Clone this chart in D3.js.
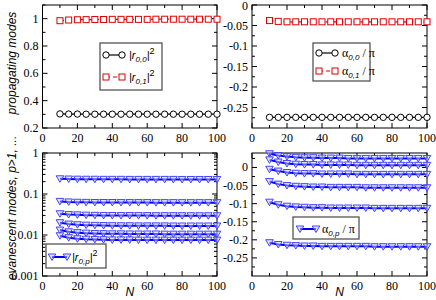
<!DOCTYPE html>
<html><head><meta charset="utf-8">
<script src="https://cdn.jsdelivr.net/npm/d3@7/dist/d3.min.js"></script>
<style>body{margin:0;background:#fff}svg{display:block}</style>
</head><body>
<svg id="c" width="436" height="300"></svg>
<script>
const N = [10,15,20,25,30,35,40,45,50,55,60,65,70,75,80,85,90,95,100];
// top-left: |r_{0,0}|^2 and |r_{0,1}|^2
const r00 = [0.303,0.302,0.302,0.301,0.301,0.301,0.301,0.301,0.301,0.301,0.301,0.301,0.301,0.301,0.301,0.301,0.301,0.301,0.301];
const r01 = [0.985,0.990,0.992,0.993,0.994,0.994,0.995,0.995,0.995,0.995,0.995,0.996,0.996,0.996,0.996,0.996,0.996,0.996,0.996];
// top-right: alpha/pi
const a00 = [-0.274,-0.274,-0.274,-0.274,-0.274,-0.274,-0.274,-0.274,-0.274,-0.274,-0.274,-0.274,-0.274,-0.274,-0.274,-0.274,-0.274,-0.274,-0.274];
const a01 = [-0.038,-0.040,-0.041,-0.041,-0.041,-0.041,-0.041,-0.041,-0.041,-0.041,-0.041,-0.041,-0.041,-0.041,-0.041,-0.041,-0.041,-0.041,-0.041];
// bottom-left: evanescent |r_{0,p}|^2
const rp1 = [0.235,0.232,0.230,0.229,0.229,0.228,0.228,0.228,0.227,0.227,0.227,0.227,0.227,0.227,0.226,0.226,0.226,0.226,0.226];
const rp2 = [0.066,0.064,0.063,0.0625,0.062,0.062,0.062,0.0618,0.0618,0.0617,0.0617,0.0616,0.0616,0.0616,0.0615,0.0615,0.0615,0.0615,0.0615];
const rp3 = [0.033,0.0315,0.031,0.0305,0.0302,0.030,0.0299,0.0298,0.0298,0.0297,0.0297,0.0296,0.0296,0.0296,0.0296,0.0295,0.0295,0.0295,0.0295];
const rp4 = [0.0200,0.0185,0.0178,0.0174,0.0172,0.0170,0.0169,0.0168,0.0168,0.0167,0.0167,0.0167,0.0167,0.0166,0.0166,0.0166,0.0166,0.0166,0.0166];
const rp5 = [0.0132,0.0120,0.0114,0.0111,0.0109,0.0108,0.0107,0.0107,0.0106,0.0106,0.0106,0.0106,0.0105,0.0105,0.0105,0.0105,0.0105,0.0105,0.0105];
const rp6 = [0.0096,0.0086,0.0081,0.0079,0.0078,0.0077,0.0076,0.0076,0.0076,0.0075,0.0075,0.0075,0.0075,0.0075,0.0075,0.0075,0.0075,0.0075,0.0075];
// bottom-right: evanescent alpha_{0,p}/pi
const ap1 = [0.038,0.033,0.030,0.028,0.027,0.027,0.026,0.026,0.026,0.025,0.025,0.025,0.025,0.025,0.025,0.025,0.025,0.025,0.025];
const ap2 = [0.021,0.015,0.011,0.009,0.008,0.008,0.007,0.007,0.007,0.007,0.006,0.006,0.006,0.006,0.006,0.006,0.006,0.006,0.006];
const ap3 = [-0.005,-0.010,-0.014,-0.016,-0.017,-0.017,-0.018,-0.018,-0.018,-0.018,-0.019,-0.019,-0.019,-0.019,-0.019,-0.019,-0.019,-0.019,-0.019];
const ap4 = [-0.039,-0.046,-0.050,-0.052,-0.053,-0.054,-0.054,-0.055,-0.055,-0.055,-0.055,-0.056,-0.056,-0.056,-0.056,-0.056,-0.056,-0.056,-0.056];
const ap5 = [-0.096,-0.103,-0.107,-0.109,-0.110,-0.111,-0.111,-0.112,-0.112,-0.112,-0.112,-0.112,-0.113,-0.113,-0.113,-0.113,-0.113,-0.113,-0.113];
const ap6 = [-0.208,-0.213,-0.215,-0.216,-0.217,-0.217,-0.218,-0.218,-0.218,-0.218,-0.218,-0.218,-0.219,-0.219,-0.219,-0.219,-0.219,-0.219,-0.219];

const xTicks = [0,20,40,60,80,100];
const yTicksTL = [0.2,0.4,0.6,0.8,1];
const yTicksTR = [-0.25,-0.2,-0.15,-0.1,-0.05,0];
const yTicksBL = [0.001,0.01,0.1,1];
const yTicksBR = [-0.25,-0.2,-0.15,-0.1,-0.05,0];

const svg = d3.select('#c');
const SERIF = "'Liberation Serif','Times New Roman','DejaVu Serif',serif";
const SANS = "'Liberation Sans',Arial,sans-serif";

const L = [42.5, 217], R = [252, 427], T = [5, 128], B = [153, 276];

function panel(xr, yr, yscale, yTicks, yMinor, fmt) {
  const x = d3.scaleLinear().domain([0,100]).range(xr);
  const g = svg.append('g');
  g.append('rect').attr('x', xr[0]).attr('y', yr[0]).attr('width', xr[1]-xr[0]).attr('height', yr[1]-yr[0])
    .attr('fill','none').attr('stroke','#000').attr('stroke-width',1);
  const tk = g.append('g').attr('stroke','#000').attr('stroke-width',1);
  const xMinor = d3.range(10,100,20);
  xTicks.forEach(v => { const px = x(v);
    tk.append('line').attr('x1',px).attr('x2',px).attr('y1',yr[1]).attr('y2',yr[1]-5);
    tk.append('line').attr('x1',px).attr('x2',px).attr('y1',yr[0]).attr('y2',yr[0]+5); });
  xMinor.forEach(v => { const px = x(v);
    tk.append('line').attr('x1',px).attr('x2',px).attr('y1',yr[1]).attr('y2',yr[1]-3);
    tk.append('line').attr('x1',px).attr('x2',px).attr('y1',yr[0]).attr('y2',yr[0]+3); });
  yTicks.forEach(v => { const py = yscale(v);
    tk.append('line').attr('x1',xr[0]).attr('x2',xr[0]+5).attr('y1',py).attr('y2',py);
    tk.append('line').attr('x1',xr[1]).attr('x2',xr[1]-5).attr('y1',py).attr('y2',py); });
  yMinor.forEach(v => { const py = yscale(v);
    tk.append('line').attr('x1',xr[0]).attr('x2',xr[0]+3).attr('y1',py).attr('y2',py);
    tk.append('line').attr('x1',xr[1]).attr('x2',xr[1]-3).attr('y1',py).attr('y2',py); });
  xTicks.forEach(v => g.append('text').attr('x', x(v)).attr('y', yr[1]+14).attr('text-anchor','middle')
    .style('font-family',SERIF).attr('font-size',12).text(v));
  yTicks.forEach(v => g.append('text').attr('x', xr[0]-4).attr('y', Math.max(yscale(v)+4, 10)).attr('text-anchor','end')
    .style('font-family',SERIF).attr('font-size',12).text(fmt(v)));
  return {x, g};
}

function series(p, y, vals, o) {
  const line = d3.line().x((d,i)=>p.x(N[i])).y(d=>y(d));
  p.g.append('path').attr('d', line(vals)).attr('fill','none').attr('stroke',o.color)
    .attr('stroke-width',o.lw).attr('stroke-dasharray',o.dash||null);
  drawMarks(p.g, N.map((n,i)=>[p.x(n), y(vals[i])]), o);
}
function marker(g, cx, cy, o) {
  if (o.shape==='circle') g.append('circle').attr('cx',cx).attr('cy',cy).attr('r',3.2).attr('fill','#fff').attr('stroke',o.color).attr('stroke-width',1);
  else if (o.shape==='square') g.append('rect').attr('x',cx-3).attr('y',cy-3).attr('width',6).attr('height',6).attr('fill','#fff').attr('stroke',o.color).attr('stroke-width',1);
  else g.append('path').attr('d',`M${cx-3.8},${cy-3} L${cx+3.8},${cy-3} L${cx},${cy+3.5} Z`).attr('fill','#c8c8ff').attr('fill-opacity',0.5).attr('stroke','#4444ff').attr('stroke-width',1);
}
function drawMarks(g, pts, o){ pts.forEach(p=>marker(g,p[0],p[1],o)); }

const blk = {color:'#000', lw:1.2, shape:'circle'};
const red = {color:'#e00000', lw:1.2, shape:'square', dash:'4,3'};
const blu = {color:'#0000ff', lw:2, shape:'tri'};

// Top-left
const yTL = d3.scaleLinear().domain([0.2,1.1]).range([T[1],T[0]]);
const pTL = panel(L, T, yTL, yTicksTL, [0.3,0.5,0.7,0.9,1.1], d=>String(d));
series(pTL, yTL, r00, blk); series(pTL, yTL, r01, red);
// Top-right
const yTR = d3.scaleLinear().domain([-0.3,0]).range([T[1],T[0]]);
const pTR = panel(R, T, yTR, yTicksTR, d3.range(-0.275,0,0.05), d=>d===0?'0':String(d));
series(pTR, yTR, a00, blk); series(pTR, yTR, a01, red);
// Bottom-left (log)
const yBL = d3.scaleLog().domain([0.001,1]).range([B[1],B[0]]);
const minorLog = []; [0.001,0.01,0.1].forEach(d=>{for(let k=2;k<10;k++) minorLog.push(d*k);});
const pBL = panel(L, B, yBL, yTicksBL, minorLog, d=>String(d));
[rp1,rp2,rp3,rp4,rp5,rp6].forEach(s=>series(pBL, yBL, s, blu));
// Bottom-right
const yBR = d3.scaleLinear().domain([-0.3,0.04]).range([B[1],B[0]]);
const pBR = panel(R, B, yBR, yTicksBR, [-0.275,-0.225,-0.175,-0.125,-0.075,-0.025,0.025], d=>d===0?'0':String(d));
[ap1,ap2,ap3,ap4,ap5,ap6].forEach(s=>series(pBR, yBR, s, blu));

// axis titles
svg.append('text').attr('transform','translate(16,63) rotate(-90)').attr('text-anchor','middle')
  .style('font-family',SANS).attr('font-style','italic').attr('font-size',12).text('propagating modes');
svg.append('text').attr('transform','translate(16,208) rotate(-90)').attr('text-anchor','middle')
  .style('font-family',SANS).attr('font-style','italic').attr('font-size',12).text('evanescent modes, p>1, ...');
[(L[0]+L[1])/2,(R[0]+R[1])/2].forEach(cx=>svg.append('text').attr('x',cx).attr('y',296).attr('text-anchor','middle')
  .style('font-family',SANS).attr('font-style','italic').attr('font-size',12).text('N'));

// legends
function legendBox(x,y,w,h){ svg.append('rect').attr('x',x).attr('y',y).attr('width',w).attr('height',h).attr('fill','#fff').attr('stroke','#555').attr('stroke-width',1.3); }
function legSym(x1,x2,y,o){
  svg.append('line').attr('x1',x1).attr('x2',x2).attr('y1',y).attr('y2',y).attr('stroke',o.color).attr('stroke-width',o.lw).attr('stroke-dasharray',o.dash||null);
  marker(svg,x1,y,o); marker(svg,x2,y,o);
}
function rLabel(x,y,sub){
  const t = svg.append('text').attr('x',x).attr('y',y).style('font-family',SANS).attr('font-size',11).attr('font-style','italic');
  t.append('tspan').text('|r');
  t.append('tspan').attr('font-size',8).attr('dy',3).text(sub);
  t.append('tspan').attr('dy',-3).text('|');
  t.append('tspan').attr('font-size',9).attr('dy',-5).attr('font-style','normal').text('2');
}
function aLabel(x,y,sub){
  const t = svg.append('text').attr('x',x).attr('y',y).style('font-family',SERIF).attr('font-size',12);
  t.append('tspan').text('α');
  t.append('tspan').attr('font-size',8).attr('dy',3).style('font-family',SANS).attr('font-style','italic').text(sub);
  t.append('tspan').attr('dy',-3).text(' / π');
}
legendBox(100,43,62,47);
legSym(106,122,55,blk); rLabel(129,59,'0,0');
legSym(106,122,77,red); rLabel(129,81,'0,1');
legendBox(313,43,57,38);
legSym(319,335,53,blk); aLabel(342,57,'0,0');
legSym(319,335,71,red); aLabel(342,75,'0,1');
legendBox(46,244,60,24);
legSym(52,67,257,blu); rLabel(72,261,'0,p');
legendBox(293,217,66,22);
legSym(300,316,229,blu); aLabel(322,233,'0,p');
</script>
</body></html>
